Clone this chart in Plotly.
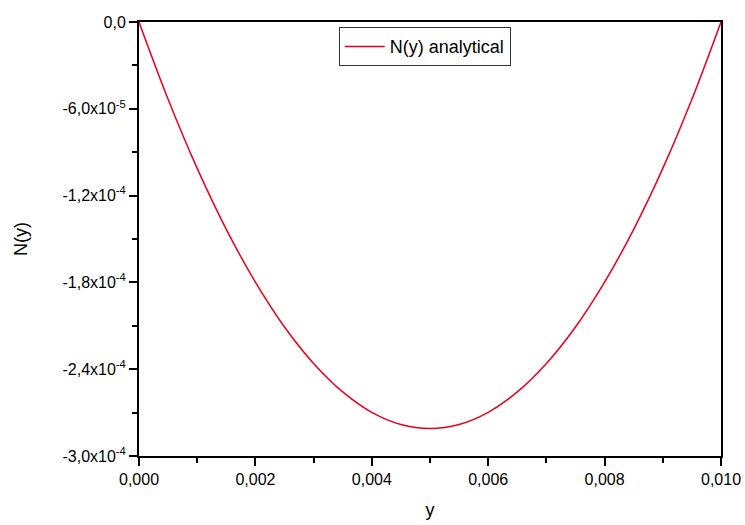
import plotly.graph_objects as go

# Sampled points of the analytical solution N(y)
y_vals = [0.0, 0.0005, 0.0010, 0.0015, 0.0020, 0.0025, 0.0030, 0.0035, 0.0040, 0.0045,
          0.0050, 0.0055, 0.0060, 0.0065, 0.0070, 0.0075, 0.0080, 0.0085, 0.0090, 0.0095, 0.0100]
n_vals = [0.0, -5.34e-5, -1.012e-4, -1.433e-4, -1.798e-4, -2.108e-4, -2.360e-4, -2.557e-4,
          -2.698e-4, -2.782e-4, -2.810e-4, -2.782e-4, -2.698e-4, -2.557e-4, -2.360e-4,
          -2.108e-4, -1.798e-4, -1.433e-4, -1.012e-4, -5.34e-5, 0.0]

x_ticks = [0.0, 0.002, 0.004, 0.006, 0.008, 0.010]
x_tick_text = ["0,000", "0,002", "0,004", "0,006", "0,008", "0,010"]
y_ticks = [0.0, -6.0e-5, -1.2e-4, -1.8e-4, -2.4e-4, -3.0e-4]
y_tick_text = ["0,0", "-6,0x10<sup>-5</sup>", "-1,2x10<sup>-4</sup>", "-1,8x10<sup>-4</sup>",
               "-2,4x10<sup>-4</sup>", "-3,0x10<sup>-4</sup>"]

FONT = "Liberation Sans, Arial, sans-serif"

fig = go.Figure()
fig.add_trace(go.Scatter(
    x=y_vals, y=n_vals, mode="lines", name="N(y) analytical",
    line=dict(color="#e8001c", width=1.5, shape="spline"),
))

axis_common = dict(
    showline=True, linecolor="black", linewidth=2, mirror=True,
    showgrid=False, zeroline=False,
    ticks="outside", ticklen=8, tickwidth=2, tickcolor="black",
    tickfont=dict(family=FONT, size=16, color="black"),
)

fig.update_xaxes(
    range=[0.0, 0.010], tickvals=x_ticks, ticktext=x_tick_text,
    minor=dict(ticks="outside", ticklen=5, tickwidth=2, tickcolor="black", dtick=0.001),
    title=dict(text="y", font=dict(family=FONT, size=18, color="black"), standoff=16),
    **axis_common,
)
fig.update_yaxes(
    range=[-3.0e-4, 0.0], tickvals=y_ticks, ticktext=y_tick_text,
    minor=dict(ticks="outside", ticklen=5, tickwidth=2, tickcolor="black", dtick=3.0e-5),
    title=dict(text="N(y)", font=dict(family=FONT, size=18, color="black"), standoff=30),
    **axis_common,
)

fig.update_layout(
    width=745, height=525,
    margin=dict(l=139, r=24, t=22, b=69, autoexpand=False),
    paper_bgcolor="white", plot_bgcolor="white",
    showlegend=True,
    legend=dict(
        x=0.491, y=0.988, xanchor="center", yanchor="top",
        bgcolor="white", bordercolor="#333333", borderwidth=1,
        font=dict(family=FONT, size=18, color="black"),
        tracegroupgap=0, itemwidth=40,
    ),
)

fig.write_html("out.html")
